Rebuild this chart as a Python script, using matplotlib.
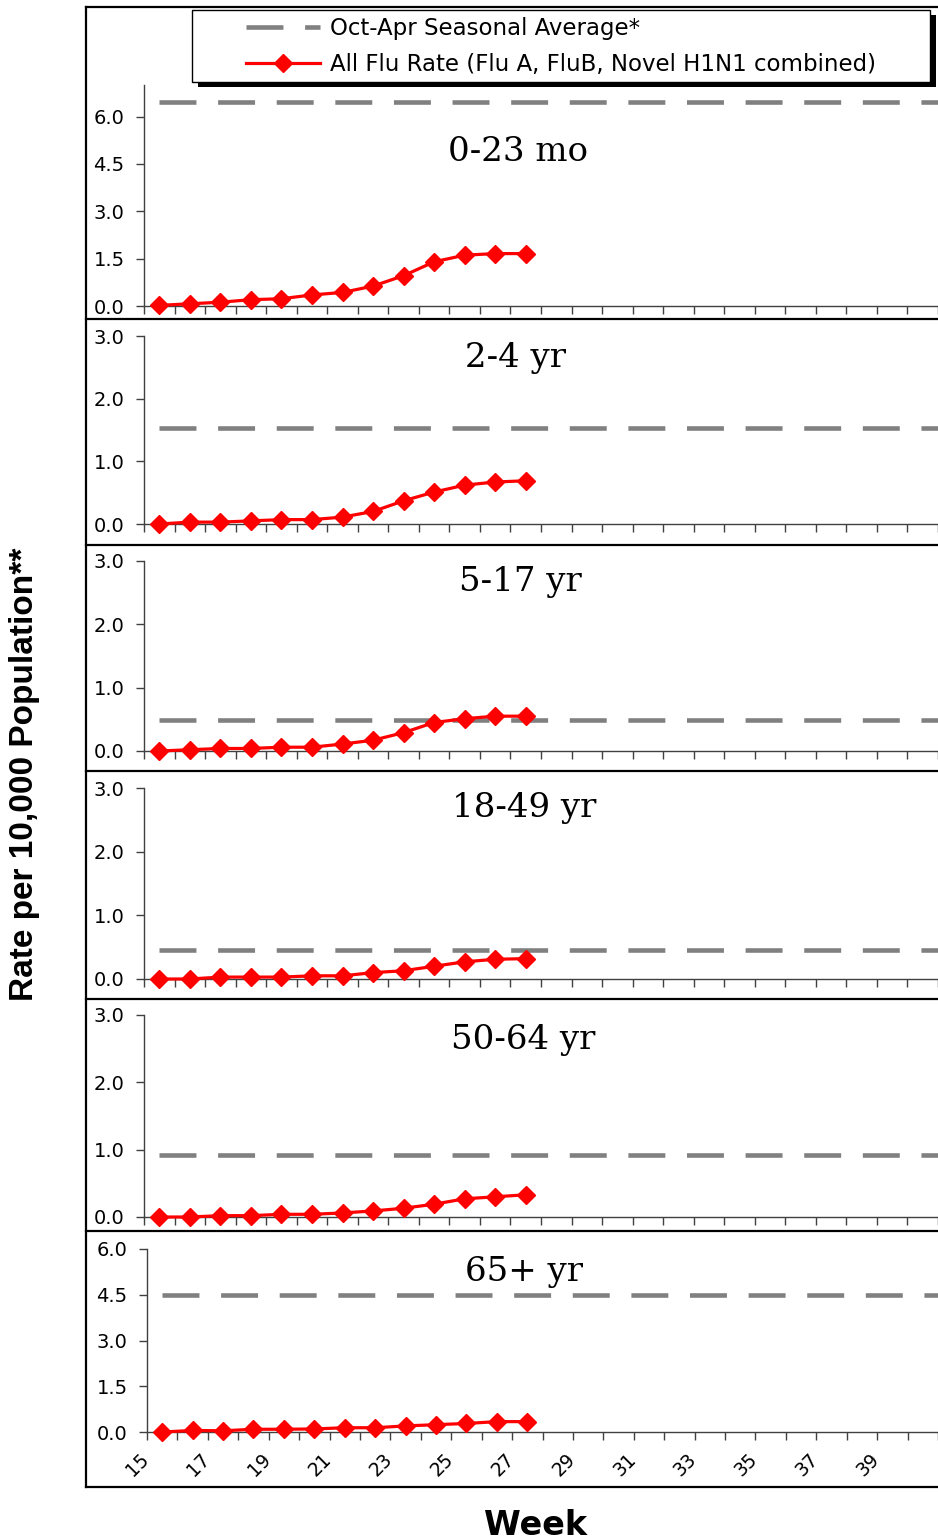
import numpy as np
import matplotlib
matplotlib.use("Agg")
import matplotlib.pyplot as plt
from matplotlib.lines import Line2D
from matplotlib.patches import Rectangle
from matplotlib.transforms import ScaledTranslation

plt.rcParams["lines.scale_dashes"] = False

# ---------------- data ----------------
weeks = list(range(15, 28))
axis_weeks = list(range(15, 42))
week_labels = list(range(15, 40, 2))

age_groups = ["0-23 mo", "2-4 yr", "5-17 yr", "18-49 yr", "50-64 yr", "65+ yr"]
rate_0_23mo = [0.02, 0.07, 0.12, 0.20, 0.23, 0.35, 0.43, 0.63, 0.96, 1.40, 1.61, 1.66, 1.66]
rate_2_4yr = [0.00, 0.03, 0.03, 0.05, 0.07, 0.07, 0.11, 0.20, 0.37, 0.51, 0.62, 0.67, 0.69]
rate_5_17yr = [0.00, 0.02, 0.04, 0.04, 0.06, 0.06, 0.11, 0.17, 0.29, 0.45, 0.51, 0.55, 0.55]
rate_18_49yr = [0.00, 0.00, 0.03, 0.03, 0.03, 0.05, 0.05, 0.10, 0.13, 0.20, 0.27, 0.31, 0.32]
rate_50_64yr = [0.00, 0.00, 0.02, 0.02, 0.04, 0.04, 0.06, 0.09, 0.13, 0.19, 0.27, 0.30, 0.33]
rate_65plus = [0.00, 0.05, 0.04, 0.09, 0.09, 0.10, 0.14, 0.14, 0.20, 0.24, 0.28, 0.34, 0.34]
rates = [rate_0_23mo, rate_2_4yr, rate_5_17yr, rate_18_49yr, rate_50_64yr, rate_65plus]
seasonal_avg = [6.47, 1.53, 0.49, 0.46, 0.92, 4.5]
y_max = [7.0, 3.0, 3.0, 3.0, 3.0, 6.0]
y_ticks_big = [0.0, 1.5, 3.0, 4.5, 6.0]
y_ticks_small = [0.0, 1.0, 2.0, 3.0]
y_ticks = [y_ticks_big, y_ticks_small, y_ticks_small, y_ticks_small, y_ticks_small, y_ticks_big]

legend_labels = ["Oct-Apr Seasonal Average*", "All Flu Rate (Flu A, FluB, Novel H1N1 combined)"]

# ---------------- layout (pixels) ----------------
W, H = 938, 1539
fig = plt.figure(figsize=(W / 100, H / 100), dpi=100)
fig.patch.set_facecolor("white")

def fx(x):
    return x / W

def fy(y):
    return 1 - y / H

panel_px = [(144, 85, 306), (144, 336, 524), (144, 561, 751),
            (144, 788, 979), (144, 1015, 1217), (147, 1249, 1432)]
title_px = [(518, 161), (515, 367), (520, 591), (524, 817), (523, 1049), (524, 1281)]
cat_w = 30.75

avg_style = dict(color="#808080", lw=3.3, dashes=(26.6, 15.6))
rate_style = dict(color="#ff0000", lw=2.3, marker="D", ms=9.5)
axis_col = "#404040"

for i in range(6):
    l, t, b = panel_px[i]
    ax = fig.add_axes([fx(l), fy(b), 1 - fx(l), (b - t) / H])
    ax.patch.set_alpha(0)
    ax.plot(axis_weeks, [seasonal_avg[i]] * len(axis_weeks), zorder=2, **avg_style)
    ax.plot(weeks, rates[i], zorder=3, clip_on=False, **rate_style)
    ax.set_xlim(14.5, 14.5 + (W - l) / cat_w)
    ax.set_ylim(0, y_max[i])
    for s in ["top", "right"]:
        ax.spines[s].set_visible(False)
    for s in ["left", "bottom"]:
        ax.spines[s].set_color(axis_col)
        ax.spines[s].set_linewidth(1.0)
    ax.set_yticks(y_ticks[i])
    ax.set_yticklabels([f"{v:.1f}" for v in y_ticks[i]], family="DejaVu Sans", fontsize=14)
    major = np.array(week_labels) - 0.5
    minor = np.array(axis_weeks) - 0.5
    ax.set_xticks(major)
    ax.set_xticks([m for m in minor if m not in major], minor=True)
    ax.tick_params(axis="both", which="both", direction="out", length=6, width=1,
                   color=axis_col, labelcolor="black")
    ax.tick_params(axis="y", pad=8)
    if i == 5:
        ax.set_xticklabels([str(w) for w in week_labels], rotation=45, ha="right",
                           va="top", family="DejaVu Sans", fontsize=13.5)
        ax.tick_params(axis="x", pad=7)
        shift = ScaledTranslation(6 / 100, 0, fig.dpi_scale_trans)
        for lab in ax.get_xticklabels():
            lab.set_transform(lab.get_transform() + shift)
    else:
        ax.set_xticklabels([])
    tx, ty = title_px[i]
    fig.text(fx(tx), fy(ty), age_groups[i], ha="center", va="baseline",
             fontsize=24.5, family="DejaVu Serif", color="black")

# ---------------- borders ----------------
bw = 1.6
fig.add_artist(Line2D([fx(86), fx(86)], [fy(7), fy(1487)], color="black", lw=bw,
                      transform=fig.transFigure))
for yy in [7, 319, 545, 771, 999, 1231, 1487]:
    fig.add_artist(Line2D([fx(86), 1.0], [fy(yy), fy(yy)], color="black", lw=bw,
                          transform=fig.transFigure))

# ---------------- legend ----------------
fig.add_artist(Rectangle((fx(198), fy(87)), fx(936) - fx(198), (87 - 15) / H,
                         facecolor="black", edgecolor="none",
                         transform=fig.transFigure, zorder=3))
fig.add_artist(Rectangle((fx(192), fy(82)), fx(930) - fx(192), (82 - 10) / H,
                         facecolor="white", edgecolor="black", lw=1.0,
                         transform=fig.transFigure, zorder=4))
handles = [Line2D([], [], **avg_style), Line2D([], [], **rate_style)]
leg = fig.legend(handles, legend_labels, loc="upper left",
                 bbox_to_anchor=(fx(246), fy(17)), frameon=False, borderpad=0,
                 borderaxespad=0, handlelength=3.23, handletextpad=0.44,
                 labelspacing=0.58, prop={"family": "DejaVu Sans", "size": 16.5})
leg.set_zorder(6)

# ---------------- axis titles ----------------
fig.text(fx(25), fy(774), "Rate per 10,000 Population**", rotation=90, ha="center",
         va="center", fontsize=24, fontweight="bold", family="Liberation Sans")
fig.text(fx(535), fy(1535), "Week", ha="center", va="baseline", fontsize=24,
         fontweight="bold", family="DejaVu Sans")

fig.savefig("out.png", dpi=100)
